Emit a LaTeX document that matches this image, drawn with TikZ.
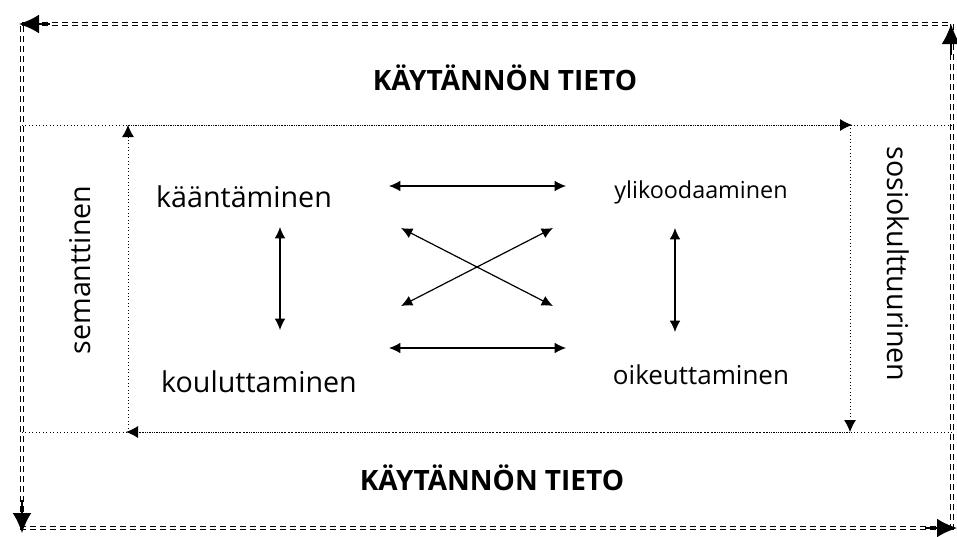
\documentclass[tikz,border=0pt]{standalone}
\usepackage{fontspec}
\setmainfont{Open Sans}
\usetikzlibrary{arrows.meta}
\begin{document}
\begin{tikzpicture}[x=0.75pt,y=-0.75pt,
  outer/.style={line width=1pt,double distance=1.6pt,dash pattern=on 4.5pt off 3pt},
  inner/.style={line width=0.6pt,dotted},
  bigtip/.style={-{Latex[length=15pt,width=14pt]}},
  midtip/.style={-{Latex[length=9pt,width=9pt]}},
  conn/.style={line width=0.9pt,{Latex[length=8.5pt,width=8pt]}-{Latex[length=8.5pt,width=8pt]}},
  lab/.style={font=\fontsize{21.5}{25}\selectfont},
  title/.style={font=\fontsize{21}{25}\selectfont\bfseries}]
\useasboundingbox (0,0) rectangle (957,536);
% outer corners
\coordinate (TL) at (22,24);
\coordinate (TR) at (952,24);
\coordinate (BL) at (22,528);
\coordinate (BR) at (952,528);
\draw[outer] (TL) -- (TR) -- (BR) -- (BL) -- cycle;
\coordinate (tlA) at (50,24); \coordinate (tlB) at (19,24);
\coordinate (blA) at (22,500); \coordinate (blB) at (22,533);
\coordinate (brA) at (925,528); \coordinate (brB) at (957,528);
\coordinate (trA) at (951,55); \coordinate (trB) at (951,24);
\draw[bigtip,line width=1pt] (tlA) -- (tlB);
\draw[bigtip,line width=1pt] (blA) -- (blB);
\draw[bigtip,line width=1pt] (brA) -- (brB);
\draw[bigtip,line width=1pt] (trA) -- (trB);
% inner dotted
\coordinate (iTL) at (128,125);
\coordinate (iTR) at (852,125);
\coordinate (iBR) at (850,432);
\coordinate (iBL) at (126,432);
\coordinate (hL1) at (22,125); \coordinate (hR1) at (952,125);
\coordinate (hL2) at (22,432); \coordinate (hR2) at (952,432);
\draw[inner] (hL1) -- (hR1);
\draw[inner] (hL2) -- (hR2);
\draw[inner,midtip] (iTL) -- (iTR);
\draw[inner,midtip] (850,125) -- (iBR);
\draw[inner,midtip] (iBR) -- (iBL);
\draw[inner,midtip] (128,432) -- (iTL);
% titles
\node[title] (t1) at (505,78) {KÄYTÄNNÖN TIETO};
\node[title] (t2) at (492,478) {KÄYTÄNNÖN TIETO};
\node[lab,rotate=90] (sem) at (80,270) {semanttinen};
\node[lab,rotate=-90] (sos) at (898,264) {sosiokulttuurinen};
% labels
\node[lab] (kaa) at (244,197) {kääntäminen};
\node[lab,font=\fontsize{17.5}{21}\selectfont] (yli) at (701,192) {ylikoodaaminen};
\node[lab,font=\fontsize{19.5}{23}\selectfont] (oik) at (701,375) {oikeuttaminen};
\node[lab] (kou) at (259,382) {kouluttaminen};
% connectors
\coordinate (h1a) at (389,186); \coordinate (h1b) at (566,186);
\coordinate (h2a) at (389,348); \coordinate (h2b) at (566,348);
\coordinate (v1a) at (280,227); \coordinate (v1b) at (280,330);
\coordinate (v2a) at (675,228); \coordinate (v2b) at (675,332);
\coordinate (c1a) at (401,228); \coordinate (c1b) at (553,306);
\coordinate (c2a) at (401,306); \coordinate (c2b) at (553,228);
\draw[conn] (h1a) -- (h1b);
\draw[conn] (h2a) -- (h2b);
\draw[conn] (v1a) -- (v1b);
\draw[conn] (v2a) -- (v2b);
\draw[conn] (c1a) -- (c1b);
\draw[conn] (c2a) -- (c2b);
\end{tikzpicture}
\end{document}
